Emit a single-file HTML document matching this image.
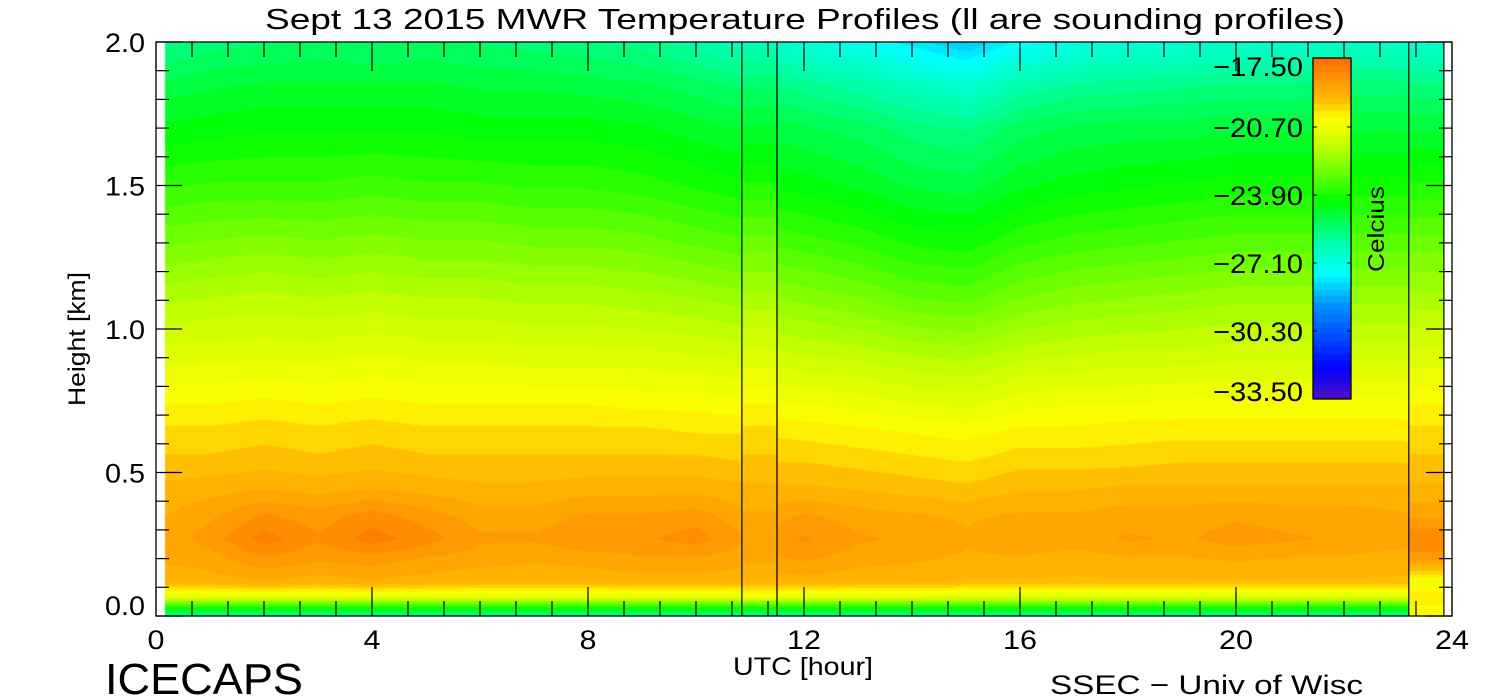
<!DOCTYPE html>
<html><head><meta charset="utf-8"><style>
html,body{margin:0;padding:0;background:#fff;}
#wrap{position:relative;width:1500px;height:700px;overflow:hidden;font-family:"Liberation Sans",sans-serif;}
canvas{position:absolute;left:0;top:0;}
svg{position:absolute;left:0;top:0;}
text{font-family:"Liberation Sans",sans-serif;fill:#000;}
</style></head><body>
<div id="wrap">
<canvas id="cv" width="1500" height="700"></canvas>
<svg id="sv" width="1500" height="700"></svg>
</div>
<script>
// ---- data ----
const heights = [0,0.03,0.07,0.12,0.2,0.27,0.35,0.45,0.55,0.65,0.75,0.9,1.1,1.3,1.5,1.7,1.85,2.0];
const hours = [0,1,2,3,4,5,6,7,8,9,10,11,12,13,14,15,16,17,18,19,20,21,22,23,24];
const tempRows = [
[-26,-26,-26,-26,-26,-26,-26,-26,-26,-26,-26,-26,-26,-26,-26,-26,-26,-26,-26,-26,-26,-26,-26,-26,-26],
[-24,-24,-24,-24,-24,-24,-24,-24,-24,-24,-24,-24,-24,-24,-24,-24,-24,-24,-24,-24,-24,-24,-24,-24,-24],
[-20.8,-20.8,-20.7,-20.8,-20.7,-20.8,-20.8,-20.8,-20.8,-20.8,-20.8,-20.8,-20.8,-20.8,-20.8,-20.9,-20.9,-20.9,-20.9,-20.9,-20.9,-20.9,-20.9,-20.9,-20.9],
[-19.3,-19.2,-19.1,-19.2,-19.1,-19.2,-19.3,-19.3,-19.3,-19.2,-19.2,-19.3,-19.2,-19.3,-19.3,-19.4,-19.4,-19.4,-19.4,-19.4,-19.4,-19.4,-19.4,-19.4,-19.4],
[-19,-18.9,-18.5,-18.7,-18.6,-18.8,-18.9,-19,-18.9,-18.8,-18.8,-18.9,-18.7,-18.9,-19,-19.1,-19.1,-19.2,-19.1,-19.1,-19.0,-19.1,-19.1,-19.2,-19.2],
[-19,-18.6,-18.0,-18.4,-18.0,-18.3,-18.7,-18.7,-18.5,-18.5,-18.3,-18.8,-18.4,-18.7,-18.8,-19.0,-18.8,-18.9,-18.7,-18.8,-18.6,-18.7,-18.8,-18.9,-19],
[-19.1,-18.8,-18.4,-18.6,-18.3,-18.6,-18.9,-18.9,-18.7,-18.7,-18.6,-19.0,-18.7,-18.9,-19.0,-19.1,-19.0,-19.0,-18.9,-18.9,-18.8,-18.9,-18.9,-19.0,-19.1],
[-19.3,-19.2,-19.1,-19.2,-19.1,-19.2,-19.3,-19.3,-19.2,-19.2,-19.2,-19.3,-19.3,-19.4,-19.5,-19.6,-19.4,-19.4,-19.3,-19.3,-19.3,-19.3,-19.3,-19.3,-19.4],
[-19.6,-19.6,-19.5,-19.6,-19.5,-19.6,-19.6,-19.6,-19.6,-19.6,-19.6,-19.7,-19.7,-19.8,-19.9,-20.0,-19.8,-19.8,-19.8,-19.7,-19.7,-19.7,-19.7,-19.7,-19.8],
[-19.9,-19.9,-19.8,-19.9,-19.8,-19.9,-19.9,-19.9,-19.9,-19.9,-20.0,-20.0,-20.1,-20.2,-20.3,-20.4,-20.2,-20.2,-20.1,-20.1,-20.1,-20.1,-20.1,-20.1,-20.2],
[-20.3,-20.3,-20.2,-20.3,-20.2,-20.3,-20.3,-20.3,-20.3,-20.4,-20.4,-20.5,-20.6,-20.7,-20.9,-21.0,-20.7,-20.6,-20.6,-20.5,-20.5,-20.5,-20.5,-20.5,-20.6],
[-21.0,-20.9,-20.9,-20.9,-20.8,-20.9,-20.9,-21.0,-21.0,-21.0,-21.1,-21.2,-21.4,-21.5,-21.7,-21.8,-21.5,-21.4,-21.3,-21.3,-21.2,-21.2,-21.2,-21.2,-21.2],
[-21.8,-21.7,-21.6,-21.7,-21.6,-21.7,-21.7,-21.8,-21.8,-21.9,-22.0,-22.2,-22.4,-22.6,-22.9,-23.0,-22.6,-22.4,-22.3,-22.2,-22.1,-22.1,-22.1,-22.1,-22.1],
[-22.7,-22.6,-22.5,-22.6,-22.5,-22.6,-22.6,-22.7,-22.7,-22.8,-23.0,-23.2,-23.4,-23.6,-23.9,-24.0,-23.6,-23.4,-23.3,-23.2,-23.1,-23.1,-23.1,-23.1,-23.1],
[-23.6,-23.5,-23.5,-23.5,-23.4,-23.5,-23.5,-23.6,-23.6,-23.7,-23.9,-24.1,-24.3,-24.5,-24.8,-24.9,-24.5,-24.3,-24.2,-24.1,-24.0,-24.0,-24.0,-24.0,-24.0],
[-24.4,-24.3,-24.2,-24.2,-24.2,-24.2,-24.3,-24.3,-24.3,-24.4,-24.6,-24.8,-25.0,-25.2,-25.5,-25.7,-25.2,-25.0,-24.9,-24.9,-24.8,-24.8,-24.8,-24.8,-24.8],
[-25.0,-24.8,-24.7,-24.7,-24.7,-24.7,-24.8,-24.8,-24.9,-25.0,-25.2,-25.5,-25.8,-26.1,-26.5,-26.8,-26.2,-25.9,-25.8,-25.7,-25.6,-25.6,-25.5,-25.5,-25.6],
[-25.8,-25.5,-25.4,-25.3,-25.4,-25.3,-25.4,-25.5,-25.6,-25.8,-26.1,-26.5,-27.0,-27.4,-27.9,-28.4,-27.6,-27.2,-27.0,-26.9,-26.8,-26.8,-26.7,-26.7,-26.8]
];
const sounding1 = [-26,-24,-20.5,-19.3,-19.0,-18.9,-19.0,-19.3,-19.6,-19.9,-20.3,-21.0,-21.9,-22.8,-23.8,-24.7,-25.4,-26.4];
const sounding2 = [-20.5,-20.3,-20.1,-20.6,-18.6,-18.2,-18.8,-19.3,-19.6,-19.9,-20.3,-21.0,-21.9,-22.8,-23.8,-24.8,-25.6,-26.8];
const soundingSpans = [[10.85,11.5],[23.2,23.85]];
const cbLabels = ["-17.50","-20.70","-23.90","-27.10","-30.30","-33.50"];
const xTicks = [0,4,8,12,16,20,24];
const yTicks = [0.0,0.5,1.0,1.5,2.0];
// ---- layout ----
const X0=156,X1=1452,Y0=616,Y1=42;
const xs=t=>X0+(X1-X0)*t/24, ys=h=>Y0-(Y0-Y1)*h/2;
const stops=[[-33.5,[80,16,190]],[-32,[0,0,255]],[-30.8,[0,64,255]],[-29,[0,150,255]],[-27.6,[0,255,255]],[-26,[0,255,160]],[-24.2,[0,255,0]],[-23,[96,255,0]],[-21.5,[200,255,0]],[-20.3,[255,255,0]],[-19.5,[255,190,0]],[-18.5,[255,150,0]],[-17.5,[255,106,0]]];
function cmap(v){v=Math.round(v/0.3)*0.3;
 if(v<=stops[0][0])return stops[0][1];
 for(let i=1;i<stops.length;i++){if(v<=stops[i][0]){const a=stops[i-1],b=stops[i],f=(v-a[0])/(b[0]-a[0]);return a[1].map((c,k)=>Math.round(c+(b[1][k]-c)*f));}}
 return stops[stops.length-1][1];}
function interp1(arr,h){if(h<=heights[0])return arr[0];
 for(let i=1;i<heights.length;i++)if(h<=heights[i]){const f=(h-heights[i-1])/(heights[i]-heights[i-1]);return arr[i-1]+(arr[i]-arr[i-1])*f;}
 return arr[arr.length-1];}
const cv=document.getElementById('cv'),ctx=cv.getContext('2d');
const img=ctx.createImageData(1500,700);
const xa=xs(0.17),xb=xs(23.85);
for(let py=Y1;py<Y0;py++){
 const h=(Y0-py)/(Y0-Y1)*2;
 const col=hours.map((_,j)=>interp1(tempRows.map(r=>r[j]),h));
 const s1=interp1(sounding1,h),s2=interp1(sounding2,h);
 for(let px=Math.round(xa);px<Math.round(xb);px++){
  const t=(px-X0)/(X1-X0)*24;let v;
  if(t>=soundingSpans[0][0]&&t<soundingSpans[0][1])v=s1;
  else if(t>=soundingSpans[1][0])v=s2;
  else{const j=Math.min(23,Math.floor(t)),f=t-j;v=col[j]+(col[j+1]-col[j])*f;}
  const c=cmap(v),o=(py*1500+px)*4;img.data[o]=c[0];img.data[o+1]=c[1];img.data[o+2]=c[2];img.data[o+3]=255;}}
// colorbar
const CX0=1313,CX1=1351,CY0=58,CY1=399;
for(let py=CY0;py<CY1;py++){const v=-17.5-16*(py-CY0)/(CY1-CY0);const c=cmap(v);
 for(let px=CX0;px<CX1;px++){const o=(py*1500+px)*4;img.data[o]=c[0];img.data[o+1]=c[1];img.data[o+2]=c[2];img.data[o+3]=255;}}
ctx.putImageData(img,0,0);
// ---- svg overlay ----
const sv=document.getElementById('sv'),NS='http://www.w3.org/2000/svg';
function el(tag,attrs,parent){const e=document.createElementNS(NS,tag);for(const k in attrs)e.setAttribute(k,attrs[k]);(parent||sv).appendChild(e);return e;}
function txt(s,x,y,size,anchor,len){const a={x:x,y:y,'font-size':size,'text-anchor':anchor||'middle'};if(len){a.textLength=len;a.lengthAdjust='spacingAndGlyphs';}const t=el('text',a);t.textContent=s;return t;}
const frame=el('rect',{x:X0,y:Y1,width:X1-X0,height:Y0-Y1,fill:'none',stroke:'#000','stroke-width':1.3});


soundingSpans.forEach(sp=>{[sp[0],sp[1]].forEach(t=>{if(t<23.8){const l=el('line',{x1:xs(t),x2:xs(t),y1:Y1,y2:Y0,stroke:'#000','stroke-width':1.2});
 
 }});});
const sl=el('line',{x1:xb,x2:xb,y1:Y1,y2:Y0,stroke:'#000','stroke-width':1.2});


// x ticks
for(let k=0;k<=36;k++){const t=k*24/36,x=xs(t),maj=k%6===0,L=maj?29:15;
 const a=el('line',{x1:x,x2:x,y1:Y0,y2:Y0-L,stroke:'#000','stroke-width':1.2});
 
 
 const b=el('line',{x1:x,x2:x,y1:Y1,y2:Y1+L,stroke:'#000','stroke-width':1.2});
 
 }
xTicks.forEach(t=>{const l=txt(String(t),xs(t),649,27,'middle',String(t).length*17);
 
 });
// y ticks
for(let k=0;k<=20;k++){const h=k*0.1,y=ys(h),maj=k%5===0,L=maj?26:13;
 const a=el('line',{x1:X0,x2:X0+L,y1:y,y2:y,stroke:'#000','stroke-width':1.2});
 
 
 const b=el('line',{x1:X1,x2:X1-L,y1:y,y2:y,stroke:'#000','stroke-width':1.2});
 
 }
yTicks.forEach(h=>{const l=txt(h.toFixed(1),145,Math.min(ys(h)+10,615),27,'end',40);
 
 });
// colorbar frame
const cb=el('rect',{x:CX0,y:CY0,width:CX1-CX0,height:CY1-CY0,fill:'none',stroke:'#000','stroke-width':1.3});


const cbY=[66,127,195,263,331,391];
cbLabels.forEach((s,i)=>{const l=txt(s.replace('-','\u2212'),1303,cbY[i]+10,27,'end',90);
 
 
 if(i>0&&i<5){el('line',{x1:CX0,x2:CX0+4,y1:cbY[i],y2:cbY[i],stroke:'#000'});el('line',{x1:CX1,x2:CX1-4,y1:cbY[i],y2:cbY[i],stroke:'#000'});}});
const cel=el('text',{x:0,y:0,'font-size':23,'text-anchor':'middle',textLength:86,lengthAdjust:'spacingAndGlyphs',transform:'translate(1384,229) rotate(-90)'});cel.textContent='Celcius';


const ti=txt('Sept 13 2015 MWR Temperature Profiles (ll are sounding profiles)',805,29,29,'middle',1080);


const xt=txt('UTC [hour]',803,675,25,'middle',140);


const yt=el('text',{x:0,y:0,'font-size':24,'text-anchor':'middle',textLength:134,lengthAdjust:'spacingAndGlyphs',transform:'translate(85,339) rotate(-90)'});yt.textContent='Height [km]';


const ic=txt('ICECAPS',105,694,44,'start',198);


const ss=txt('SSEC \u2212 Univ of Wisc',1050,694,27,'start',313);


</script>
</body></html>
